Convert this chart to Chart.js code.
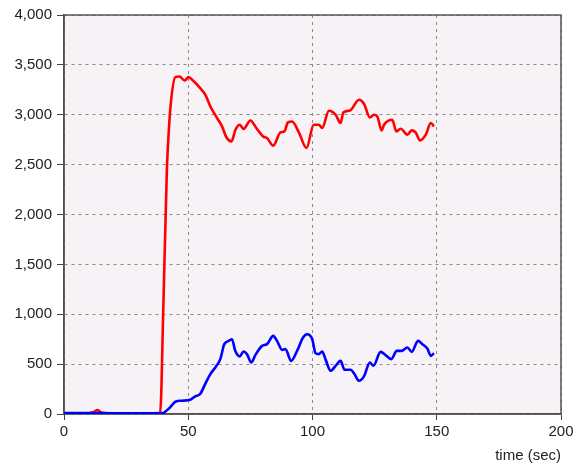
<!DOCTYPE html>
<html>
<head>
<meta charset="utf-8">
<script src="https://cdn.jsdelivr.net/npm/chart.js@4"></script>
<style>
  html, body { margin: 0; padding: 0; background: #fff; }
</style>
</head>
<body>
<canvas id="myChart" width="580" height="466"></canvas>
<script>
// time (sec) and values
const redTime = [0, 5, 10, 12, 13.5, 15, 20, 25, 30, 35, 38.7, 40, 41.4, 42.2, 43, 44.8, 46.5, 48.5, 50.1, 51.9,
  54.8, 56.9, 58.9, 61.6, 63.6, 65.3, 67.4, 69, 70.7, 72.3, 75, 77.4, 80.1, 81.7, 84.2, 87.1, 88.7, 90.1, 91.8, 94.5,
  97.6, 100.5, 102.5, 103.9, 106.6, 109.3, 111.3, 112.4, 115.1, 118.7, 120.7, 123.1, 124.7, 126.1, 127.8, 128.8,
  132.1, 133.7, 135.5, 138.2, 139.9, 141.5, 143.3, 145.6, 147.6, 148.9];
const redValues = [5, 5, 8, 20, 40, 15, 5, 8, 5, 8, 10, 1100, 2450, 2850, 3120, 3377, 3383, 3343, 3377, 3343,
  3267, 3200, 3083, 2967, 2883, 2777, 2733, 2850, 2900, 2857, 2943, 2867, 2783, 2767, 2690, 2823, 2833, 2923, 2933, 2823,
  2667, 2900, 2900, 2867, 3040, 3000, 2917, 3023, 3043, 3150, 3110, 2973, 3000, 2983, 2843, 2900,
  2950, 2833, 2860, 2800, 2843, 2823, 2743, 2800, 2917, 2883];

const blueTime = [0, 10, 20, 30, 40, 40.7, 42.7, 44.8, 47.4, 50.8, 52.8, 54.8, 56.8, 58.9, 60.9, 62.9, 64.5, 66.3,
  67.6, 68.9, 70.7, 72.3, 73.6, 75.4, 77, 79.7, 81.7, 84.2, 85.7, 87.8, 89.1, 91.4, 93.8, 96.2, 97.8, 99.9, 101.2,
  102.5, 103.9, 105.2, 107.3, 109.3, 111.3, 112.9, 115.3, 116.9, 118.7, 120.7, 123.1, 124.5, 127.4, 129.4, 131.7,
  133.9, 135.8, 138.2, 139.9, 142.5, 144.2, 146.2, 147.6, 148.9];
const blueValues = [10, 10, 8, 8, 10, 23, 67, 123, 133, 143, 177, 200, 300, 400, 467, 550, 700, 733,
  750, 633, 577, 627, 600, 517, 590, 683, 700, 783, 733, 643, 650, 533, 633, 767, 800, 750, 610,
  600, 627, 550, 433, 483, 533, 443, 443, 400, 333, 377, 517, 483, 623, 590, 550,
  633, 633, 667, 623, 733, 700, 657, 583, 610];

const xTicks = [0, 50, 100, 150, 200];
const yTicks = [0, 500, 1000, 1500, 2000, 2500, 3000, 3500, 4000];
const xTitle = "time (sec)";

const toPoints = (xs, ys) => xs.map((x, i) => ({ x: x, y: ys[i] }));

// plot background + top/right frame
const plotFrame = {
  id: "plotFrame",
  beforeDraw(chart) {
    const { ctx, chartArea: a } = chart;
    ctx.save();
    ctx.fillStyle = "#f7f2f6";
    ctx.fillRect(a.left, a.top, a.right - a.left, a.bottom - a.top);
    ctx.restore();
  },
  beforeDatasetsDraw(chart) {
    const { ctx, chartArea: a } = chart;
    ctx.save();
    ctx.strokeStyle = "#555";
    ctx.lineWidth = 1.5;
    ctx.strokeRect(a.left, a.top, a.right - a.left, a.bottom - a.top);
    ctx.restore();
  }
};

const font = { family: "'Liberation Sans', Arial, sans-serif", size: 15 };

const ctx = document.getElementById("myChart").getContext("2d");
const chart = new Chart(ctx, {
  type: "line",
  data: {
    datasets: [
      {
        label: "blue",
        data: toPoints(blueTime, blueValues),
        borderColor: "#0000ff",
        borderWidth: 2.6,
        pointRadius: 0,
        cubicInterpolationMode: "monotone",
        tension: 0.3
      },
      {
        label: "red",
        data: toPoints(redTime, redValues),
        borderColor: "#ff0000",
        borderWidth: 2.6,
        pointRadius: 0,
        cubicInterpolationMode: "monotone",
        tension: 0.3
      }
    ]
  },
  options: {
    responsive: false,
    animation: false,
    layout: { padding: { top: 15, right: 19, left: 0, bottom: 0 } },
    plugins: { legend: { display: false }, tooltip: { enabled: false } },
    scales: {
      x: {
        type: "linear",
        min: 0,
        max: 200,
        afterBuildTicks: (s) => { s.ticks = xTicks.map(v => ({ value: v })); },
        afterFit: (s) => { s.height = 52; },
        ticks: { font: font, color: "#222", padding: 3, maxRotation: 0 },
        grid: { color: "#8a8a8a", tickColor: "#444", tickLength: 6, lineWidth: 1 },
        border: { color: "#444", width: 1.5, dash: [3, 4] },
        title: { display: true, text: xTitle, align: "end", font: font, color: "#222", padding: { top: 0, bottom: 1 } }
      },
      y: {
        min: 0,
        max: 4000,
        afterBuildTicks: (s) => { s.ticks = yTicks.map(v => ({ value: v })); },
        afterFit: (s) => { s.width = 64; },
        ticks: { font: font, color: "#222", padding: 5 },
        grid: { color: "#8a8a8a", tickColor: "#444", tickLength: 7, lineWidth: 1 },
        border: { color: "#444", width: 1.5, dash: [3, 4] }
      }
    }
  },
  plugins: [plotFrame]
});
</script>
</body>
</html>
